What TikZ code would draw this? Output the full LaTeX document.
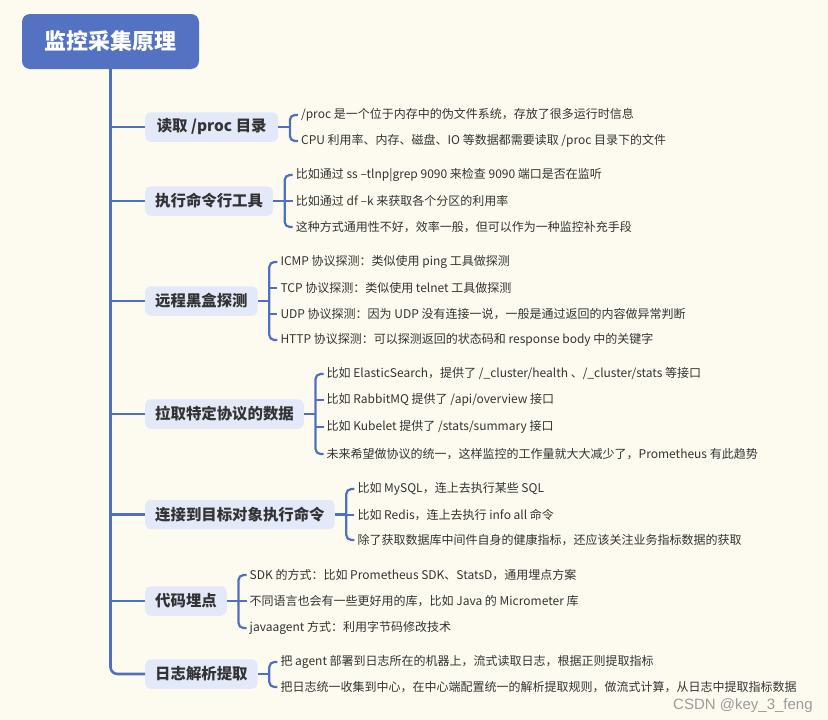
\documentclass[tikz,border=0pt]{standalone}
\usepackage{fontspec}
\setmainfont{Noto Sans CJK SC}
\newfontfamily\wmfont{Liberation Sans}
\definecolor{bg}{HTML}{FDFBF0}
\definecolor{rootblue}{HTML}{5373C2}
\definecolor{lineblue}{HTML}{4F70C0}
\definecolor{boxfill}{HTML}{E3E9F9}
\definecolor{txt}{HTML}{333333}
\definecolor{wm}{HTML}{9C9C9C}
\tikzset{
  rootbox/.style={fill=rootblue, rounded corners=8pt, text=white,
    font=\fontsize{22}{26}\selectfont\bfseries, minimum width=177pt,
    minimum height=55pt, inner sep=0pt},
  branch/.style={fill=boxfill, rounded corners=6pt, text=txt,
    font=\fontsize{15.4}{18}\selectfont\bfseries, minimum height=29.5pt,
    inner xsep=10pt, inner ysep=0pt, anchor=west},
  leaf/.style={text=txt, font=\fontsize{12.0}{14}\selectfont,
    inner xsep=3pt, inner ysep=1pt, anchor=west},
  link/.style={draw=lineblue, line width=2.6pt},
  brace/.style={draw=lineblue, line width=2.2pt, rounded corners=5pt},
  wmark/.style={text=wm, font=\wmfont\fontsize{15}{18}\selectfont, inner sep=0pt, anchor=west}
}
\begin{document}
\begin{tikzpicture}[x=1pt,y=-1pt]
\fill[bg] (0,0) rectangle (828,720);
\useasboundingbox (0,0) rectangle (828,720);

\node[rootbox] (root) at (110.5,41.5) {监控采集原理};

% branches
\node[branch, minimum width=133pt] (b1) at (145,127) {读取 /proc 目录};
\node[branch] (b2) at (145,201) {执行命令行工具};
\node[branch] (b3) at (145,301) {远程黑盒探测};
\node[branch] (b4) at (145,414) {拉取特定协议的数据};
\node[branch] (b5) at (145,514.5) {连接到目标对象执行命令};
\node[branch] (b6) at (145,601) {代码埋点};
\node[branch] (b7) at (145,674) {日志解析提取};

% trunk
\draw[link, rounded corners=7pt] (root.south) |- (b7.west);
\foreach \b in {b1,b2,b3,b4,b5,b6}
  \draw[link] (root.south |- \b.west) -- (\b.west);

% bracket points
\foreach \i in {1,...,7} {
  \coordinate (k\i) at ([xshift=11.5pt]b\i.east);
  \coordinate (t\i) at ([xshift=8pt]k\i);
}

% leaves 1
\node[leaf] (c11) at (t1 |- 0,115) {/proc 是一个位于内存中的伪文件系统，存放了很多运行时信息};
\node[leaf] (c12) at (t1 |- 0,141) {CPU 利用率、内存、磁盘、IO 等数据都需要读取 /proc 目录下的文件};
% leaves 2
\node[leaf] (c21) at (t2 |- 0,175) {比如通过 ss –tlnp|grep 9090 来检查 9090 端口是否在监听};
\node[leaf] (c22) at (t2 |- 0,201) {比如通过 df –k 来获取各个分区的利用率};
\node[leaf] (c23) at (t2 |- 0,227) {这种方式通用性不好，效率一般，但可以作为一种监控补充手段};
% leaves 3
\node[leaf] (c31) at (t3 |- 0,262) {ICMP 协议探测：类似使用 ping 工具做探测};
\node[leaf] (c32) at (t3 |- 0,288) {TCP 协议探测：类似使用 telnet 工具做探测};
\node[leaf] (c33) at (t3 |- 0,314) {UDP 协议探测：因为 UDP 没有连接一说，一般是通过返回的内容做异常判断};
\node[leaf] (c34) at (t3 |- 0,340) {HTTP 协议探测：可以探测返回的状态码和 response body 中的关键字};
% leaves 4
\node[leaf] (c41) at (t4 |- 0,374) {比如 ElasticSearch，提供了 /\_cluster/health 、/\_cluster/stats 等接口};
\node[leaf] (c42) at (t4 |- 0,400) {比如 RabbitMQ 提供了 /api/overview 接口};
\node[leaf] (c43) at (t4 |- 0,427) {比如 Kubelet 提供了 /stats/summary 接口};
\node[leaf] (c44) at (t4 |- 0,454) {未来希望做协议的统一，这样监控的工作量就大大减少了，Prometheus 有此趋势};
% leaves 5
\node[leaf] (c51) at (t5 |- 0,489) {比如 MySQL，连上去执行某些 SQL};
\node[leaf] (c52) at (t5 |- 0,515) {比如 Redis，连上去执行 info all 命令};
\node[leaf] (c53) at (t5 |- 0,540) {除了获取数据库中间件自身的健康指标，还应该关注业务指标数据的获取};
% leaves 6
\node[leaf] (c61) at (t6 |- 0,575) {SDK 的方式：比如 Prometheus SDK、StatsD，通用埋点方案};
\node[leaf] (c62) at (t6 |- 0,601) {不同语言也会有一些更好用的库，比如 Java 的 Micrometer 库};
\node[leaf] (c63) at (t6 |- 0,628) {javaagent 方式：利用字节码修改技术};
% leaves 7
\node[leaf] (c71) at (t7 |- 0,662) {把 agent 部署到日志所在的机器上，流式读取日志，根据正则提取指标};
\node[leaf] (c72) at (t7 |- 0,687) {把日志统一收集到中心，在中心端配置统一的解析提取规则，做流式计算，从日志中提取指标数据};

% branch to bracket
\foreach \i in {1,...,7}
  \draw[link] (b\i.east) -- (k\i);

% brackets
\draw[brace] (c11.west) -| (k1) |- (c12.west);
\draw[brace] (c21.west) -| (k2) |- (c23.west);
\draw[brace] (k2 |- c22.west) -- (c22.west);
\draw[brace] (c31.west) -| (k3) |- (c34.west);
\draw[brace] (k3 |- c32.west) -- (c32.west);
\draw[brace] (k3 |- c33.west) -- (c33.west);
\draw[brace] (c41.west) -| (k4) |- (c44.west);
\draw[brace] (k4 |- c42.west) -- (c42.west);
\draw[brace] (k4 |- c43.west) -- (c43.west);
\draw[brace] (c51.west) -| (k5) |- (c53.west);
\draw[brace] (k5 |- c52.west) -- (c52.west);
\draw[brace] (c61.west) -| (k6) |- (c63.west);
\draw[brace] (k6 |- c62.west) -- (c62.west);
\draw[brace] (c71.west) -| (k7) |- (c72.west);

\node[wmark] (wm) at (673,706) {CSDN @key\_3\_feng};
\end{tikzpicture}
\end{document}
